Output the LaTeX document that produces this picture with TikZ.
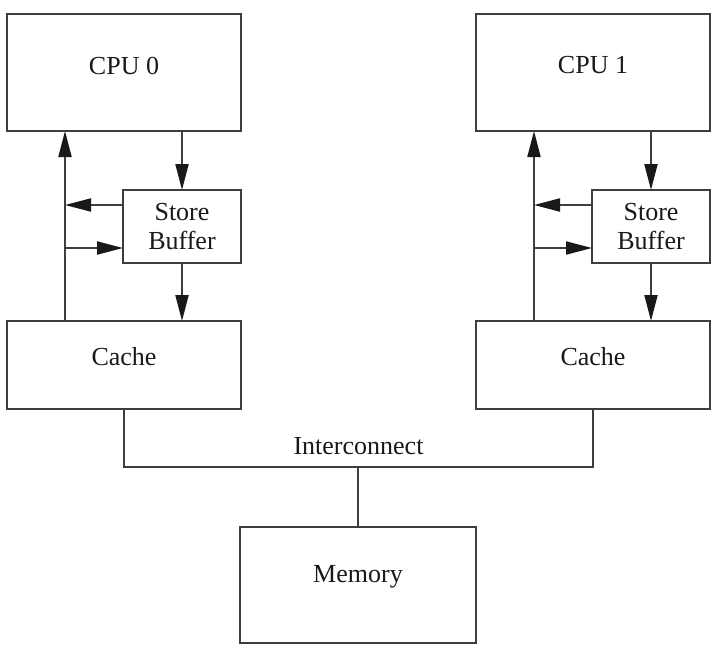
\documentclass[tikz,border=0pt]{standalone}
\usepackage{fontspec}
\setmainfont{Liberation Serif}
\usetikzlibrary{arrows.meta}
\definecolor{lineclr}{RGB}{62,62,62}
\definecolor{txtclr}{RGB}{25,25,25}
\begin{document}
\begin{tikzpicture}[x=1pt,y=-1pt,
  box/.style={draw=lineclr, line width=2pt, inner sep=0pt, outer sep=0pt, fill=white},
  lbl/.style={text=txtclr, font=\fontsize{26}{29}\selectfont, align=center, inner sep=0pt},
  wire/.style={draw=lineclr, line width=2pt},
  arr/.style={wire, -{Triangle[length=26pt,width=13pt,color=black!90]}}]
\useasboundingbox[fill=white] (0,0) rectangle (720,653);

% boxes
\node[box, minimum width=234pt, minimum height=117pt] (cpu0) at (124,72.5) {};
\node[box, minimum width=234pt, minimum height=117pt] (cpu1) at (593,72.5) {};
\node[box, minimum width=118pt, minimum height=73pt] (sb0) at (182,226.5) {};
\node[box, minimum width=118pt, minimum height=73pt] (sb1) at (651,226.5) {};
\node[box, minimum width=234pt, minimum height=88pt] (cache0) at (124,365) {};
\node[box, minimum width=234pt, minimum height=88pt] (cache1) at (593,365) {};
\node[box, minimum width=236pt, minimum height=116pt] (mem) at (358,585) {};

% labels
\node[lbl] (tcpu0) at ([yshift=7pt]cpu0.center) {CPU 0};
\node[lbl] (tcpu1) at ([yshift=7pt]cpu1.center) {CPU 1};
\node[lbl] (tsb0) at (sb0.center) {Store\\Buffer};
\node[lbl] (tsb1) at (sb1.center) {Store\\Buffer};
\node[lbl] (tcache0) at ([yshift=8pt]cache0.center) {Cache};
\node[lbl] (tcache1) at ([yshift=8pt]cache1.center) {Cache};
\node[lbl] (tmem) at ([yshift=8pt]mem.center) {Memory};
\node[lbl] (tic) at (358.5,446) {Interconnect};

% vertical bypass lines
\coordinate (v0) at (65,0);
\coordinate (v1) at (534,0);
\draw[arr] (cache0.north -| v0) -- (cpu0.south -| v0);
\draw[arr] (cache1.north -| v1) -- (cpu1.south -| v1);

% CPU -> store buffer -> cache
\draw[arr] (cpu0.south -| sb0.north) -- (sb0.north);
\draw[arr] (sb0.south) -- (cache0.north -| sb0.south);
\draw[arr] (cpu1.south -| sb1.north) -- (sb1.north);
\draw[arr] (sb1.south) -- (cache1.north -| sb1.south);

% store buffer <-> bypass line
\coordinate (a0) at ([yshift=21.5pt]sb0.west);
\coordinate (b0) at ([yshift=-21.5pt]sb0.west);
\coordinate (a1) at ([yshift=21.5pt]sb1.west);
\coordinate (b1) at ([yshift=-21.5pt]sb1.west);
\draw[arr] (a0) -- (a0 -| v0);
\draw[arr] (b0 -| v0) -- (b0);
\draw[arr] (a1) -- (a1 -| v1);
\draw[arr] (b1 -| v1) -- (b1);

% interconnect
\coordinate (bus) at (358,467);
\draw[wire] (cache0.south) |- (bus) -| (cache1.south);
\draw[wire] (mem.north) -- (bus);
\end{tikzpicture}
\end{document}
